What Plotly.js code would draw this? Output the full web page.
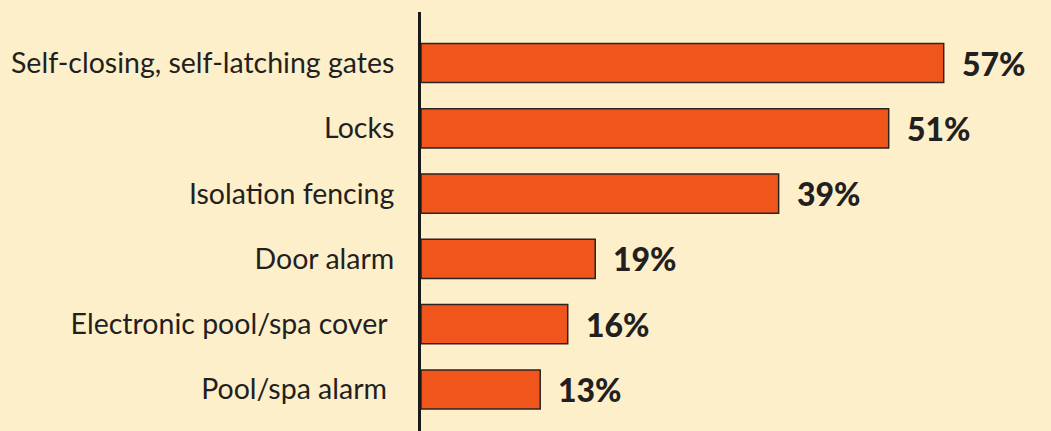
<!DOCTYPE html>
<html>
<head>
<meta charset="utf-8">
<script src="https://cdn.plot.ly/plotly-3.0.1.min.js"></script>
<style>html,body{margin:0;padding:0;background:#FDEFCA;}#chart{width:1051px;height:431px;}#chart text{font-variant-ligatures:none;}</style>
</head>
<body>
<div id="chart"></div>
<script>
const categories = [
  "Self-closing, self-latching gates",
  "Locks",
  "Isolation fencing",
  "Door alarm",
  "Electronic pool/spa cover\u00a0",
  "Pool/spa alarm\u00a0"
];
const values = [57, 51, 39, 19, 16, 13];
const valueLabels = ["57%", "51%", "39%", "19%", "16%", "13%"];

const textColor = "#231F20";

const trace = {
  type: "bar",
  orientation: "h",
  y: categories,
  x: values,
  width: 0.6,
  marker: { color: "#F0561C", line: { color: "#2B2522", width: 1.5 } },
  hoverinfo: "skip"
};

const annotations = values.map((v, i) => ({
  x: v, y: categories[i], xref: "x", yref: "y",
  text: valueLabels[i],
  showarrow: false, xanchor: "left", yanchor: "middle", xshift: 16,
  font: { family: "Lato, sans-serif", size: 32, weight: 900, color: textColor }
}));

const layout = {
  width: 1051, height: 431,
  margin: { l: 421, r: 0, t: 12, b: 0, pad: 0 },
  paper_bgcolor: "#FDEFCA",
  plot_bgcolor: "#FDEFCA",
  showlegend: false,
  xaxis: { range: [0, 68.7], visible: false, fixedrange: true },
  yaxis: {
    type: "category",
    range: [5.636, -0.781],
    showline: true, linecolor: "#1A1A1A", linewidth: 3,
    showgrid: false, zeroline: false,
    ticks: "", ticklabelstandoff: 18,
    tickfont: { family: "Lato, sans-serif", size: 28.5, color: textColor }
  },
  annotations: annotations
};

Plotly.newPlot("chart", [trace], layout, { displayModeBar: false, staticPlot: true });
</script>
</body>
</html>
